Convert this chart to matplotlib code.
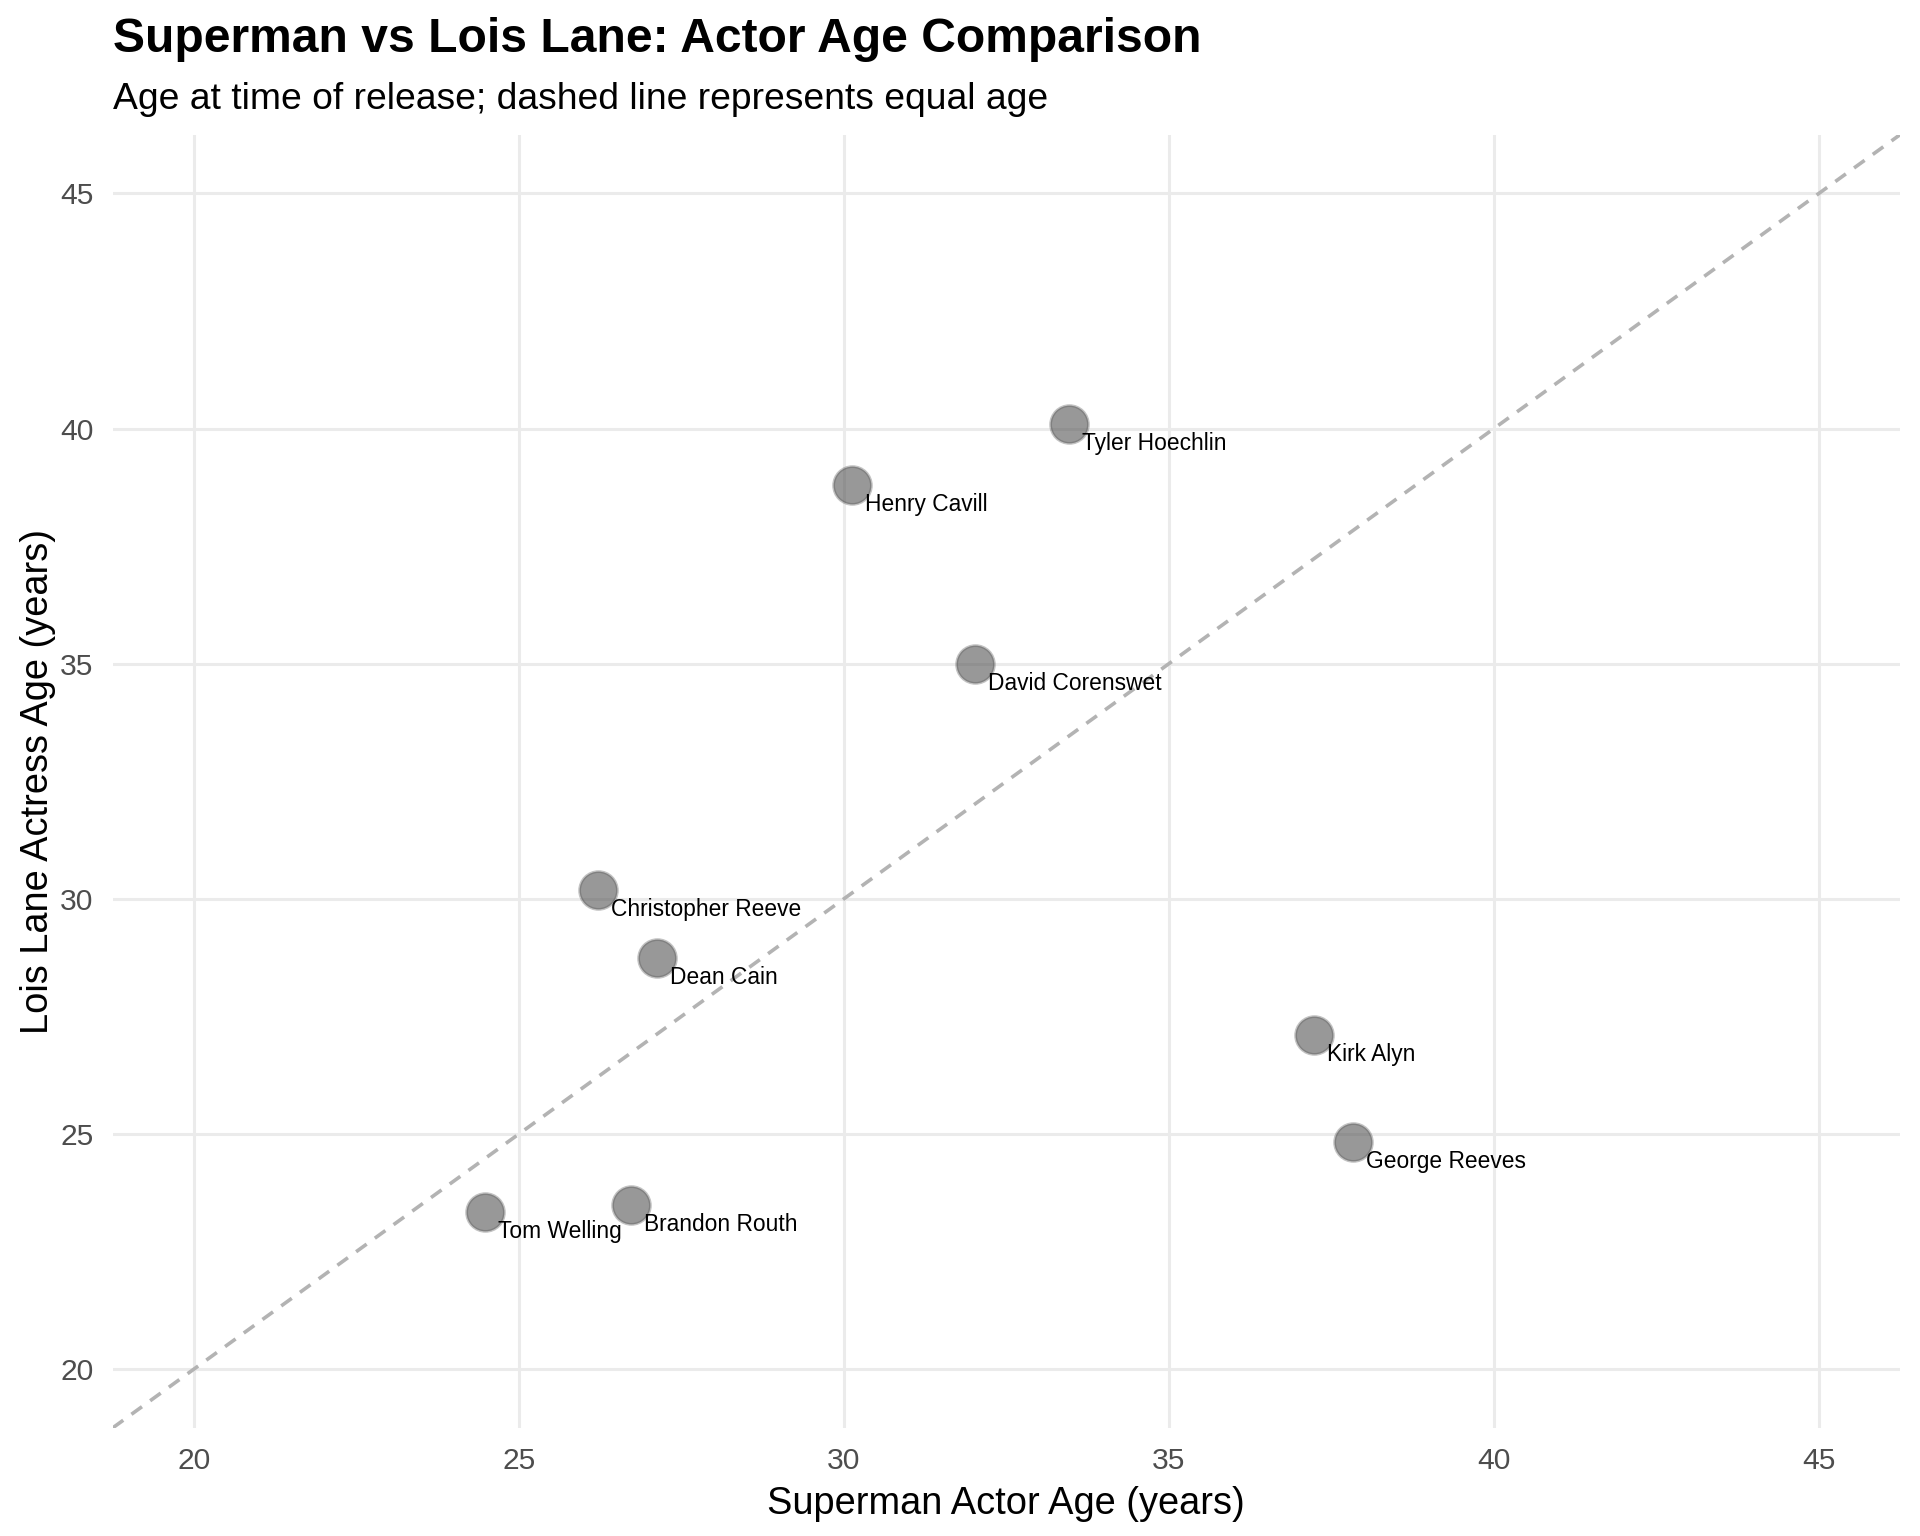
import matplotlib
matplotlib.use("Agg")
import matplotlib.pyplot as plt

plt.rcParams['font.family'] = ['Liberation Sans', 'DejaVu Sans']

actors = ["Kirk Alyn", "George Reeves", "Christopher Reeve", "Dean Cain",
          "Tom Welling", "Brandon Routh", "Henry Cavill", "Tyler Hoechlin",
          "David Corenswet"]
superman_age = [37.24, 37.83, 26.21, 27.13, 24.48, 26.72, 30.13, 33.46, 32.01]
lois_age = [27.11, 24.82, 30.18, 28.75, 23.33, 23.49, 38.80, 40.10, 35.00]
ticks = [20, 25, 30, 35, 40, 45]
lim = (20, 45)

DPI = 200
fig = plt.figure(figsize=(1920 / DPI, 1536 / DPI), dpi=DPI)
ax = fig.add_axes([0.0587, 0.0704, 0.9896 - 0.0587, 0.9123 - 0.0704])

pad = (lim[1] - lim[0]) * 0.05
ax.set_xlim(lim[0] - pad, lim[1] + pad)
ax.set_ylim(lim[0] - pad, lim[1] + pad)
ax.set_xticks(ticks)
ax.set_yticks(ticks)
ax.grid(True, color="#EBEBEB", linewidth=1.1, zorder=0)
ax.set_axisbelow(True)
for s in ax.spines.values():
    s.set_visible(False)
ax.tick_params(length=0, labelsize=10.8, labelcolor="#4D4D4D", pad=7)

# equal-age reference line
ax.axline((lim[0], lim[0]), slope=1, color="#B3B3B3", linewidth=1.3,
          linestyle=(0, (3.6, 2.8)), zorder=1)

ax.scatter(superman_age, lois_age, s=185, facecolor=(0.33, 0.33, 0.33, 0.6),
           edgecolor=(0.33, 0.33, 0.33, 0.35), linewidth=1.0, zorder=3)

for name, xv, yv in zip(actors, superman_age, lois_age):
    ax.text(xv + 0.2, yv - 0.17, name, ha="left", va="top", fontsize=8.2,
            color="black", zorder=4)

ax.set_xlabel("Superman Actor Age (years)", fontsize=13.7, labelpad=4)
ax.set_ylabel("Lois Lane Actress Age (years)", fontsize=13.7, labelpad=1.5)

fig.text(0.0587, 1 - 52 / 1536, "Superman vs Lois Lane: Actor Age Comparison",
         fontsize=17.3, fontweight="bold", ha="left", va="baseline")
fig.text(0.0587, 1 - 109 / 1536, "Age at time of release; dashed line represents equal age",
         fontsize=13.4, ha="left", va="baseline")

fig.savefig("out.png", dpi=DPI, facecolor="white")
